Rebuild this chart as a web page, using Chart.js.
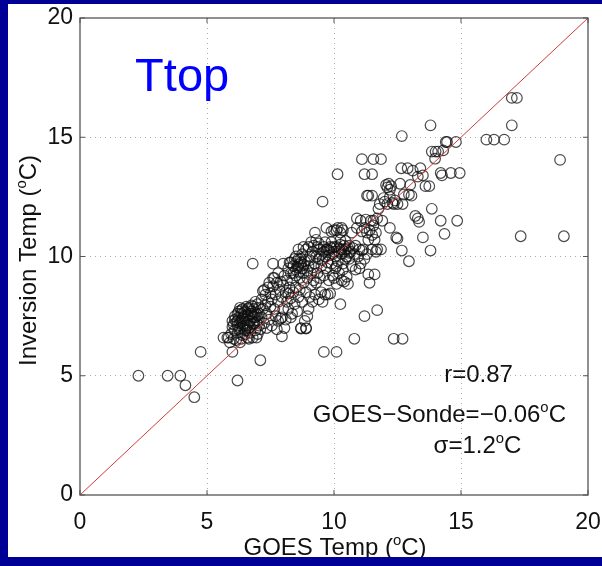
<!DOCTYPE html>
<html>
<head>
<meta charset="utf-8">
<script src="https://cdn.jsdelivr.net/npm/chart.js@4.4.1/dist/chart.umd.min.js"></script>
<style>
  html, body { margin: 0; padding: 0; background: #000096; width: 602px; height: 566px; overflow: hidden; }
  #panel { position: absolute; left: 8px; top: 4px; width: 594px; height: 553px; background: #fff; }
</style>
</head>
<body>
<div id="panel"><canvas id="chart" width="594" height="553"></canvas></div>
<script>
// GOES temp (x) vs inversion temp (y), degrees C
const bandPoints = [
  [5.65,6.6],[5.8,6.6],[5.9,6.4],[5.95,6.75],[6.0,7.05],[6.0,7.3],[6.05,6.55],[6.1,6.9],[5.85,6.6],[6.1,7.35],[6.05,7.15],
  [6.15,6.5],[6.2,6.8],[6.2,7.1],[6.25,7.45],[6.25,7.7],[6.3,6.4],[6.3,7.0],[6.35,7.3],[6.35,7.6],[6.4,6.7],[6.4,7.8],
  [6.45,7.2],[6.45,7.5],[6.5,6.9],[6.5,7.7],[6.55,7.35],[6.55,7.9],[6.6,6.6],[6.6,7.1],[6.6,7.55],[6.2,7.6],[6.3,7.85],
  [6.4,7.4],[6.5,7.1],[6.35,6.55],[6.15,7.25],
  [6.1,7.5],[6.2,7.3],[6.3,7.2],[6.4,7.05],[6.45,7.65],[6.55,7.0],[6.6,7.8],[6.65,7.3],[6.7,7.6],[6.8,7.9],[6.85,7.2],
  [6.9,7.45],[7.0,7.3],[6.75,7.7],[6.35,7.75],[6.25,6.95],[6.5,6.75],[6.6,6.9],[6.8,7.5],[7.05,7.6],
  [6.65,7.85],[6.7,7.3],[6.7,6.8],[6.75,7.6],[6.75,7.95],[6.8,6.6],[6.8,7.15],[6.85,7.45],[6.85,7.8],[6.9,6.9],[6.9,7.65],
  [6.95,7.25],[7.0,6.75],[7.0,7.55],[7.0,8.0],[7.05,7.1],[7.05,7.85],[6.7,7.05],[6.9,8.1],[7.1,6.95],[6.65,6.55],[6.95,6.6],
  [7.15,7.45],[7.15,8.2],[7.2,7.8],[7.2,8.55],[7.25,7.2],[7.3,7.95],[7.3,8.4],[7.35,7.6],[7.4,8.1],[7.4,8.7],[7.45,7.35],
  [7.5,7.9],[7.5,8.45],[7.55,7.1],[7.55,8.2],[7.6,9.1],[7.6,9.7],[7.6,8.75],[7.25,8.6],[7.35,7.0],[7.45,8.9],
  [7.65,7.8],[7.65,9.1],[7.7,8.4],[7.7,7.5],[7.75,8.9],[7.8,7.3],[7.8,8.1],[7.8,9.3],[7.85,8.6],[7.9,7.4],[7.9,8.95],
  [7.95,7.45],[7.95,8.3],[8.0,9.7],[8.0,8.8],[8.0,7.8],[8.05,9.2],[8.1,7.35],[8.1,8.5],[7.75,6.95],[8.05,7.0],
  [8.15,9.0],[8.15,8.1],[8.2,9.5],[8.2,7.8],[8.25,8.7],[8.3,9.3],[8.3,8.25],[8.3,9.75],[8.35,7.6],[8.35,9.0],[8.4,8.5],
  [8.4,9.6],[8.45,8.0],[8.45,9.9],[8.5,9.2],[8.5,8.7],[8.55,7.7],[8.55,9.55],[8.6,8.3],[8.6,9.9],[8.6,10.3],[8.25,9.75],
  [8.5,10.0],[8.2,8.45],[8.3,7.45],
  [8.5,9.45],[8.6,9.65],[8.7,9.75],[8.65,9.35],[8.75,9.5],[8.55,9.8],[8.8,9.65],[8.4,9.3],
  [8.65,9.1],[8.65,8.6],[8.7,7.0],[8.7,9.6],[8.75,8.1],[8.75,10.1],[8.8,9.3],[8.8,8.9],[8.85,7.3],[8.85,9.8],[8.9,7.0],
  [8.9,8.5],[8.9,10.3],[8.95,9.1],[9.0,7.8],[9.0,9.6],[9.0,10.4],[9.05,8.3],[9.05,10.0],[9.1,8.8],[9.1,9.3],[8.7,9.9],
  [8.8,10.4],[8.95,7.5],
  [9.15,10.2],[9.15,8.1],[9.2,9.0],[9.2,10.45],[9.25,8.4],[9.25,9.7],[9.3,10.0],[9.3,8.9],[9.35,9.3],[9.35,10.4],[9.4,8.2],
  [9.4,9.9],[9.45,9.1],[9.45,10.3],[9.5,8.5],[9.5,9.6],[9.5,10.1],[9.55,8.1],[9.6,10.4],[9.25,11.0],[9.6,9.2],
  [9.6,10.2],[9.8,10.25],[10.0,10.2],[10.2,10.35],[10.4,10.2],[9.9,10.35],[10.3,10.3],[9.7,10.3],
  [9.05,9.85],[9.2,9.55],[9.4,10.55],[9.55,9.85],[9.75,9.75],[9.9,10.6],[10.1,9.6],[10.25,10.7],[10.45,10.65],
  [10.6,10.15],[9.3,10.7],[9.65,10.6],[8.95,9.4],[9.1,10.6],[10.35,9.45],
  [9.65,10.0],[9.65,8.4],[9.7,9.5],[9.7,11.2],[9.75,10.3],[9.75,8.4],[9.8,9.0],[9.8,10.05],[9.85,10.4],[9.85,8.45],
  [9.9,9.7],[9.9,11.05],[9.95,10.1],[9.95,9.2],[10.0,9.1],[10.0,10.4],[10.0,11.1],[10.05,9.5],[10.05,10.0],[10.1,8.85],
  [10.1,11.1],[10.1,10.4],
  [10.15,9.8],[10.15,11.2],[10.2,9.3],[10.2,10.2],[10.25,11.0],[10.25,10.5],[10.3,9.0],[10.3,10.1],[10.35,11.1],[10.35,9.7],
  [10.4,10.45],[10.4,8.95],[10.45,9.9],[10.45,10.3],[10.5,9.15],[10.5,10.0],[10.55,10.35],[10.55,8.85],[10.6,9.9],
  [10.6,10.45],[10.3,11.2],
  [10.65,10.2],[10.7,9.6],[10.75,10.35],[10.8,10.1],[10.85,9.45],[10.85,10.45],[10.9,11.2],[10.95,10.0],[11.0,9.5],
  [11.0,10.3],[11.05,11.5],[11.1,11.05],[10.9,11.6],[10.7,11.0],[11.1,10.25],[11.05,9.7],
  [11.15,10.3],[11.2,11.2],[11.2,9.9],[11.25,11.55],[11.3,10.1],[11.3,11.0],[11.35,9.25],[11.35,10.7],[11.4,11.1],
  [11.4,8.9],[11.45,11.5],[11.5,10.9],[11.5,10.3],[11.55,11.3],[11.6,9.25],[11.6,10.7],[11.65,11.0],[11.7,10.3],
  [11.65,10.2],[11.55,11.5],[11.5,12.55],[11.3,12.55],[11.35,12.55],[11.7,11.6],
  [11.75,12.0],[11.8,12.2],[11.85,10.3],[11.9,11.5],[11.95,12.45],[12.0,12.3],[12.05,13.0],[12.1,12.9],[12.1,12.2],
  [12.15,13.05],[12.2,12.8],[12.2,11.2],[12.25,12.95],[12.3,12.25],[12.35,12.2],[12.4,12.35],[12.45,10.8],[12.5,12.2],
  [12.5,10.75],[12.2,12.5]
];

const scatteredPoints = [
  [2.3,5.0],[3.45,5.0],[3.95,5.0],[4.15,4.6],[4.5,4.1],[4.75,6.0],[6.0,6.0],[6.2,4.8],[7.1,5.65],[6.8,9.7],
  [7.95,6.65],[8.7,6.98],[8.9,6.98],[9.6,6.0],[10.1,6.0],[10.25,8.0],[10.8,6.55],[11.2,7.5],[11.7,7.75],[12.35,6.55],
  [12.7,6.55],[9.55,12.3],[10.14,13.45],[11.1,14.08],[11.55,14.08],[11.85,14.08],[11.2,13.45],[11.5,13.45],
  [12.6,13.05],[12.65,13.7],[12.67,15.05],[12.7,12.2],[12.75,12.6],[12.9,13.7],[12.95,12.6],[13.0,13.0],[13.05,12.55],
  [13.1,13.6],[13.2,11.7],[13.3,11.6],[13.3,13.35],[13.35,11.45],[13.4,13.7],[13.5,13.4],[13.6,12.95],[13.75,12.95],
  [13.8,15.5],[13.85,12.0],[13.85,14.4],[14.0,14.4],[13.98,14.1],[14.1,14.4],[14.2,13.5],[14.25,13.4],[14.3,14.45],
  [14.4,14.8],[14.45,14.8],[14.6,13.5],[14.8,14.8],[14.95,13.5],[13.8,10.25],[13.5,10.8],[14.35,10.95],[14.2,11.5],
  [14.85,11.5],[12.95,9.8],[12.67,10.25],
  [16.0,14.9],[16.3,14.9],[16.7,14.9],[17.0,15.5],[17.0,16.65],[17.2,16.65],[18.9,14.05],[17.35,10.85],[19.05,10.85]
];

const oneToOne = [[0, 0], [20, 20]];
const axisTicks = [0, 5, 10, 15, 20];

const FONT = "'Liberation Sans', Arial, sans-serif";

const toXY = p => ({ x: p[0], y: p[1] });

// text with superscript pieces, e.g. [['GOES Temp (', 0], ['o', 1], ['C)', 0]]
function drawParts(ctx, parts, x, y, size, align) {
  let widths = parts.map(p => {
    ctx.font = (p[1] ? size * 0.62 : size) + 'px ' + FONT;
    return ctx.measureText(p[0]).width;
  });
  let total = widths.reduce((a, b) => a + b, 0);
  let cx = align === 'center' ? x - total / 2 : x;
  ctx.textAlign = 'left';
  ctx.textBaseline = 'alphabetic';
  parts.forEach((p, i) => {
    ctx.font = (p[1] ? size * 0.62 : size) + 'px ' + FONT;
    ctx.fillText(p[0], cx, p[1] ? y - size * 0.42 : y);
    cx += widths[i];
  });
}

const decorations = {
  id: 'decorations',
  afterDraw(chart) {
    const ctx = chart.ctx;
    const xs = chart.scales.x, ys = chart.scales.y;
    const a = chart.chartArea;
    ctx.save();
    // frame and inward ticks
    ctx.strokeStyle = '#555';
    ctx.lineWidth = 1.3;
    ctx.strokeRect(a.left, a.top, a.right - a.left, a.bottom - a.top);
    ctx.lineWidth = 1;
    axisTicks.forEach(v => {
      const px = xs.getPixelForValue(v), py = ys.getPixelForValue(v);
      ctx.beginPath();
      ctx.moveTo(px, a.bottom); ctx.lineTo(px, a.bottom - 5);
      ctx.moveTo(px, a.top); ctx.lineTo(px, a.top + 5);
      ctx.moveTo(a.left, py); ctx.lineTo(a.left + 5, py);
      ctx.moveTo(a.right, py); ctx.lineTo(a.right - 5, py);
      ctx.stroke();
    });

    // tick labels (the last x label runs off the panel like the original)
    ctx.fillStyle = '#111';
    ctx.font = '23px ' + FONT;
    ctx.textBaseline = 'middle';
    ctx.textAlign = 'center';
    axisTicks.forEach(v => ctx.fillText(String(v), xs.getPixelForValue(v), a.bottom + 28));
    ctx.textAlign = 'right';
    axisTicks.forEach(v => ctx.fillText(String(v), a.left - 7, ys.getPixelForValue(v)));

    // axis titles
    drawParts(ctx, [['GOES Temp (', 0], ['o', 1], ['C)', 0]], (a.left + a.right) / 2 + 1, 551, 24, 'center');
    ctx.save();
    ctx.translate(28, (a.top + a.bottom) / 2 + 4);
    ctx.rotate(-Math.PI / 2);
    drawParts(ctx, [['Inversion Temp (', 0], ['o', 1], ['C)', 0]], 0, 0, 24, 'center');
    ctx.restore();

    // panel label
    ctx.fillStyle = '#0000ff';
    ctx.font = '47px ' + FONT;
    ctx.textAlign = 'left';
    ctx.textBaseline = 'alphabetic';
    ctx.fillText('Ttop', xs.getPixelForValue(2.17), ys.getPixelForValue(16.95));

    // statistics
    ctx.fillStyle = '#111';
    drawParts(ctx, [['r=0.87', 0]], xs.getPixelForValue(15.69), ys.getPixelForValue(4.74), 24, 'center');
    drawParts(ctx, [['GOES\u2212Sonde=\u22120.06', 0], ['o', 1], ['C', 0]], xs.getPixelForValue(14.15), ys.getPixelForValue(3.07), 24, 'center');
    drawParts(ctx, [['\u03c3=1.2', 0], ['o', 1], ['C', 0]], xs.getPixelForValue(15.65), ys.getPixelForValue(1.76), 24, 'center');
    ctx.restore();
  }
};

const gridColor = c => (c.tick.value === 0 || c.tick.value === 20) ? 'rgba(0,0,0,0)' : '#aaa';

new Chart(document.getElementById('chart'), {
  type: 'scatter',
  data: {
    datasets: [
      {
        type: 'line',
        data: oneToOne.map(toXY),
        borderColor: '#cc3c3c',
        borderWidth: 1,
        pointRadius: 0,
        fill: false,
        order: 0
      },
      {
        data: bandPoints.concat(scatteredPoints).map(toXY),
        pointRadius: 5.3,
        pointBorderWidth: 1.2,
        pointBorderColor: 'rgba(15,15,15,0.75)',
        pointBackgroundColor: 'rgba(0,0,0,0)',
        order: 1
      }
    ]
  },
  options: {
    responsive: false,
    animation: false,
    layout: { padding: { top: 14, right: 14, left: 0, bottom: 0 } },
    plugins: { legend: { display: false }, tooltip: { enabled: false } },
    scales: {
      x: {
        type: 'linear', min: 0, max: 20,
        afterBuildTicks: s => { s.ticks = axisTicks.map(v => ({ value: v })); },
        afterFit: s => { s.height = 62; },
        ticks: { display: false },
        grid: { color: gridColor, drawTicks: false, lineWidth: 1 },
        border: { display: false, dash: [1, 4] }
      },
      y: {
        type: 'linear', min: 0, max: 20,
        afterBuildTicks: s => { s.ticks = axisTicks.map(v => ({ value: v })); },
        afterFit: s => { s.width = 72; },
        ticks: { display: false },
        grid: { color: gridColor, drawTicks: false, lineWidth: 1 },
        border: { display: false, dash: [1, 4] }
      }
    }
  },
  plugins: [decorations]
});
</script>
</body>
</html>
